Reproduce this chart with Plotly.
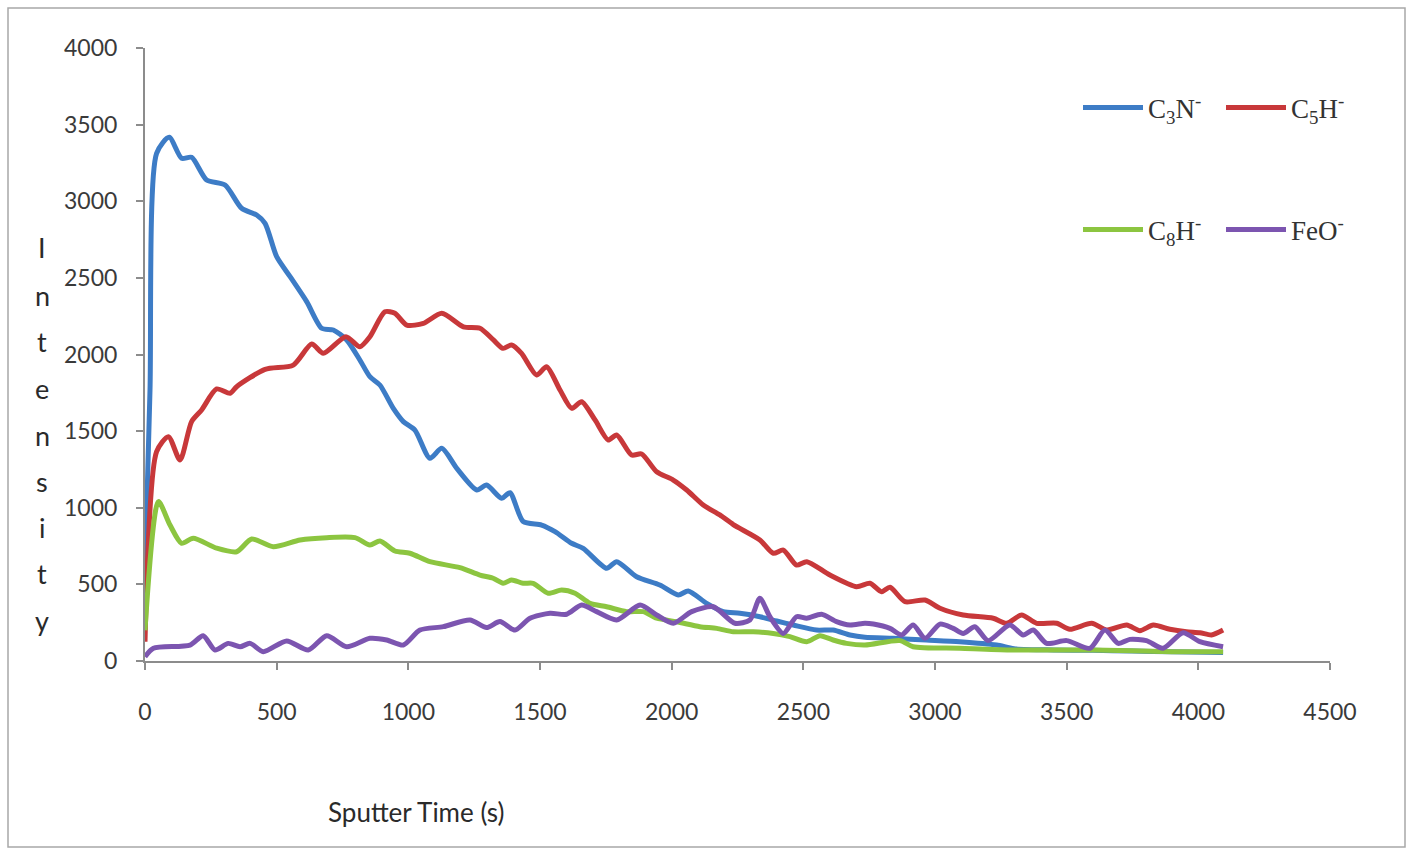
import plotly.graph_objects as go

# ---------------- data ----------------
c3n_t = [0, 19, 44, 92, 139, 177, 234, 304, 367, 424, 456, 500, 551, 614, 671, 715, 766, 816, 854, 892,
         943, 981, 1025, 1082, 1127, 1184, 1260, 1297, 1354, 1386, 1436, 1506, 1557, 1620, 1664, 1753,
         1791, 1867, 1955, 2025, 2063, 2133, 2196, 2259, 2335, 2399, 2462, 2550, 2613, 2677, 2734, 2841,
         2967, 3094, 3234, 3300, 3450, 3600, 3750, 3900, 4094]
c3n_v = [580, 1768, 3313, 3417, 3280, 3287, 3139, 3106, 2954, 2910, 2856, 2638, 2508, 2345, 2171, 2160,
         2095, 1964, 1855, 1801, 1648, 1562, 1507, 1323, 1388, 1257, 1116, 1148, 1062, 1098, 910, 887,
         844, 768, 735, 605, 648, 550, 496, 431, 457, 376, 322, 311, 289, 261, 235, 202, 202, 170, 155,
         148, 137, 126, 104, 80, 72, 70, 65, 60, 55]

c5h_t = [0, 44, 89, 133, 177, 215, 272, 323, 348, 456, 563, 633, 677, 763, 816, 854, 911, 949, 994,
         1057, 1127, 1209, 1272, 1323, 1360, 1392, 1430, 1487, 1525, 1576, 1620, 1658, 1709, 1759, 1791,
         1848, 1886, 1943, 2006, 2057, 2120, 2183, 2234, 2335, 2386, 2424, 2474, 2513, 2601, 2702, 2753,
         2797, 2829, 2886, 2962, 3019, 3107, 3221, 3272, 3329, 3386, 3462, 3512, 3595, 3652, 3728, 3778,
         3829, 3892, 3955, 4006, 4050, 4094]
c5h_v = [126, 1366, 1464, 1312, 1562, 1638, 1775, 1747, 1790, 1903, 1931, 2068, 2008, 2116, 2051, 2116,
         2279, 2269, 2192, 2203, 2269, 2181, 2171, 2095, 2040, 2062, 2007, 1866, 1920, 1768, 1649, 1692,
         1573, 1442, 1475, 1344, 1351, 1235, 1181, 1116, 1018, 953, 890, 790, 703, 724, 626, 648, 561,
         485, 507, 452, 481, 387, 398, 344, 300, 279, 246, 300, 246, 246, 207, 246, 202, 235, 198, 235,
         207, 191, 185, 170, 202]

c8h_t = [0, 51, 95, 139, 183, 272, 348, 405, 487, 589, 690, 797, 854, 892, 949, 1006, 1082, 1196, 1272,
         1322, 1360, 1392, 1436, 1474, 1531, 1582, 1633, 1690, 1753, 1829, 1892, 1943, 2019, 2107, 2171,
         2234, 2310, 2386, 2449, 2513, 2563, 2613, 2664, 2734, 2867, 2917, 3094, 3284, 3601, 3900, 4094]
c8h_v = [200, 1040, 887, 768, 801, 736, 713, 796, 746, 790, 805, 805, 757, 783, 718, 703, 648, 609, 561,
         540, 507, 529, 507, 507, 442, 463, 442, 376, 354, 322, 322, 279, 256, 224, 213, 191, 191, 180,
         159, 126, 165, 137, 115, 104, 133, 93, 83, 72, 72, 60, 61]

feo_t = [0, 32, 171, 221, 266, 316, 361, 399, 449, 538, 620, 690, 766, 854, 918, 981, 1044, 1133, 1234,
         1297, 1348, 1405, 1462, 1538, 1601, 1658, 1715, 1791, 1880, 1943, 2006, 2076, 2158, 2240, 2297,
         2335, 2373, 2424, 2474, 2513, 2569, 2626, 2677, 2734, 2766, 2829, 2873, 2917, 2962, 3019, 3069,
         3107, 3151, 3202, 3284, 3335, 3373, 3424, 3500, 3588, 3645, 3696, 3740, 3803, 3866, 3942, 4006,
         4094]
feo_v = [28, 83, 104, 165, 72, 115, 93, 115, 61, 131, 72, 165, 93, 148, 137, 104, 202, 224, 268, 218,
         257, 202, 279, 311, 305, 365, 322, 268, 365, 300, 246, 322, 354, 246, 268, 409, 289, 180, 289,
         279, 305, 257, 235, 246, 241, 213, 170, 235, 148, 241, 213, 180, 224, 133, 235, 170, 202, 115,
         133, 83, 202, 115, 141, 133, 83, 185, 126, 93]

x_ticks = [0, 500, 1000, 1500, 2000, 2500, 3000, 3500, 4000, 4500]
y_ticks = [0, 500, 1000, 1500, 2000, 2500, 3000, 3500, 4000]

series = [
    ("C<sub>3</sub>N<sup>-</sup>", c3n_t, c3n_v, "#3D7CC6", "legend"),
    ("C<sub>5</sub>H<sup>-</sup>", c5h_t, c5h_v, "#C8383A", "legend"),
    ("C<sub>8</sub>H<sup>-</sup>", c8h_t, c8h_v, "#8CC540", "legend2"),
    ("FeO<sup>-</sup>", feo_t, feo_v, "#7C55B0", "legend2"),
]

fig = go.Figure()
for name, t, v, col, lg in series:
    fig.add_trace(go.Scatter(
        x=t, y=v, mode="lines", name=name, legend=lg,
        line=dict(color=col, width=5, shape="spline", smoothing=0.7),
    ))

W, H = 1413, 850
L, R, T, B = 145, 83, 48, 189
pw, ph = W - L - R, H - T - B


def px(xp):
    return (xp - L) / pw


def py(yp):
    return (H - B - yp) / ph


axis_font = dict(family="Lato", size=23, color="#3a3a3a")
legend_font = dict(family="Liberation Serif", size=27, color="#333333")

legend_common = dict(orientation="h", xanchor="left", yanchor="middle",
                     font=legend_font, bgcolor="rgba(0,0,0,0)",
                     entrywidth=68, entrywidthmode="pixels", itemwidth=60)

fig.update_layout(
    width=W, height=H,
    margin=dict(l=L, r=R, t=T, b=B, autoexpand=False),
    paper_bgcolor="white", plot_bgcolor="white",
    xaxis=dict(range=[0, 4500], tickvals=x_ticks, showgrid=False, zeroline=False,
               showline=True, linecolor="#8c8c8c", linewidth=2,
               ticks="outside", ticklen=7, tickwidth=2, tickcolor="#8c8c8c",
               tickfont=axis_font, ticklabelstandoff=22),
    yaxis=dict(range=[0, 4000], tickvals=y_ticks, showgrid=False, zeroline=False,
               showline=True, linecolor="#8c8c8c", linewidth=2,
               ticks="outside", ticklen=7, tickwidth=2, tickcolor="#8c8c8c",
               tickfont=axis_font, ticklabelstandoff=14),
    legend=dict(x=px(1078), y=py(108), **legend_common),
    legend2=dict(x=px(1078), y=py(230), **legend_common),
    showlegend=True,
)

# axis titles
fig.add_annotation(text="Sputter Time (s)", x=px(416), y=py(812), xref="paper", yref="paper",
                   xanchor="center", yanchor="middle", showarrow=False,
                   font=dict(family="Lato", size=26, color="#2a2a2a"))
letters = list("Intensity")
letter_y = [247, 295, 341, 388, 435, 482, 527, 573, 620]
for ch, yy in zip(letters, letter_y):
    fig.add_annotation(text=ch, x=px(42), y=py(yy), xref="paper", yref="paper",
                       xanchor="center", yanchor="middle", showarrow=False,
                       font=dict(family="Lato", size=27, color="#2a2a2a"))

# frame around the picture
fig.add_shape(type="rect", xref="paper", yref="paper",
              x0=px(8), x1=px(1405), y0=py(847), y1=py(8),
              line=dict(color="#a8a8a8", width=1.5), fillcolor="rgba(0,0,0,0)", layer="below")

fig.write_html("out.html")
